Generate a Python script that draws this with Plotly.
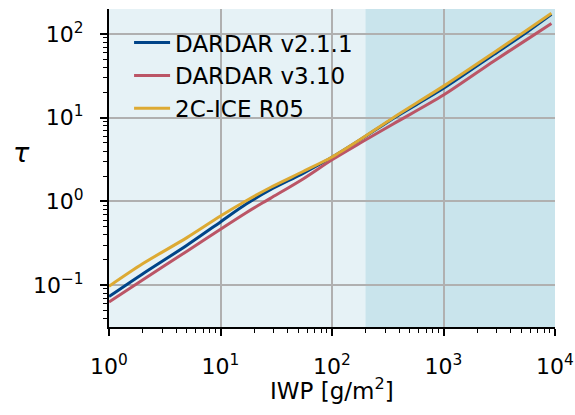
import plotly.graph_objects as go

# Ice water path [g/m^2]
iwp = [1, 2, 5, 10, 17, 28, 55, 100, 179, 357, 1000, 2818, 5620, 9290]

# Optical depth tau per product
tau_dardar_v211 = [0.073, 0.136, 0.30, 0.57, 0.93, 1.38, 2.17, 3.37, 5.45, 9.9, 22.5, 57, 106, 172]
tau_dardar_v310 = [0.063, 0.115, 0.255, 0.466, 0.735, 1.09, 1.86, 3.15, 5.0, 8.5, 18.7, 47.5, 86.5, 134]
tau_2cice_r05 = [0.097, 0.18, 0.37, 0.67, 1.02, 1.47, 2.28, 3.4, 5.5, 10.1, 23.9, 60, 112, 177]

series_names = ["DARDAR v2.1.1", "DARDAR v3.10", "2C-ICE R05"]
series_colors = ["#004488", "#BB5566", "#DDAA33"]

x_major = [1, 10, 100, 1000, 10000]
x_major_text = ["10<sup>0</sup>", "10<sup>1</sup>", "10<sup>2</sup>", "10<sup>3</sup>", "10<sup>4</sup>"]
y_major = [0.1, 1, 10, 100]
y_major_text = ["10<sup>\u22121</sup>", "10<sup>0</sup>", "10<sup>1</sup>", "10<sup>2</sup>"]

# Highlighted high-IWP range
shade_start = 200
shade_end = 10000

FONT = "DejaVu Sans"

fig = go.Figure()
for name, color, vals in zip(series_names, series_colors,
                             [tau_dardar_v211, tau_dardar_v310, tau_2cice_r05]):
    fig.add_trace(go.Scatter(
        x=iwp, y=vals, mode="lines", name=name,
        line=dict(color=color, width=3, shape="spline", smoothing=0.8),
    ))

fig.add_shape(type="rect", xref="x", yref="paper",
              x0=shade_start, x1=shade_end, y0=0, y1=1,
              fillcolor="#c9e4ec", line=dict(width=0), layer="below")

minor_x = [m * 10 ** e for e in range(0, 4) for m in range(2, 10)]
minor_y = [m * 10 ** e for e in range(-2, 3) for m in range(2, 10)]

axis_common = dict(
    type="log", automargin=False,
    showline=True, linecolor="black", linewidth=2,
    ticks="outside", ticklen=7, tickwidth=1.6, tickcolor="black",
    showgrid=True, gridcolor="#b0b0b0", gridwidth=1.6,
    zeroline=False, mirror=False,
    tickfont=dict(family=FONT, size=22, color="black"),
)

fig.update_xaxes(
    **axis_common,
    range=[0, 4],
    tickmode="array", tickvals=x_major, ticktext=x_major_text,
    ticklabelstandoff=12,
    minor=dict(tickmode="array", tickvals=minor_x, ticks="outside",
               ticklen=4, tickwidth=1.2, tickcolor="black", showgrid=False),
)
fig.update_yaxes(
    **axis_common,
    range=[-1.5, 2.3],
    tickmode="array", tickvals=y_major, ticktext=y_major_text,
    ticklabelstandoff=12,
    minor=dict(tickmode="array", tickvals=minor_y, ticks="outside",
               ticklen=4, tickwidth=1.2, tickcolor="black", showgrid=False),
)

# Axis labels
fig.add_annotation(text="IWP [g/m<sup>2</sup>]", xref="paper", yref="paper",
                   x=0.5, y=-0.196, xanchor="center", yanchor="middle",
                   showarrow=False, font=dict(family=FONT, size=23, color="black"))
fig.add_annotation(text="<i>τ</i>", xref="paper", yref="paper",
                   x=-0.197, y=0.55, xanchor="center", yanchor="middle",
                   showarrow=False, font=dict(family=FONT, size=27, color="black"))

fig.update_layout(
    width=575, height=415,
    margin=dict(l=109, r=20, t=9, b=88),
    paper_bgcolor="white",
    plot_bgcolor="#e6f2f6",
    showlegend=True,
    legend=dict(x=0.045, y=0.962, xanchor="left", yanchor="top",
                bgcolor="rgba(0,0,0,0)", borderwidth=0, itemwidth=36,
                font=dict(family=FONT, size=23, color="black")),
)

fig.write_html("out.html")
